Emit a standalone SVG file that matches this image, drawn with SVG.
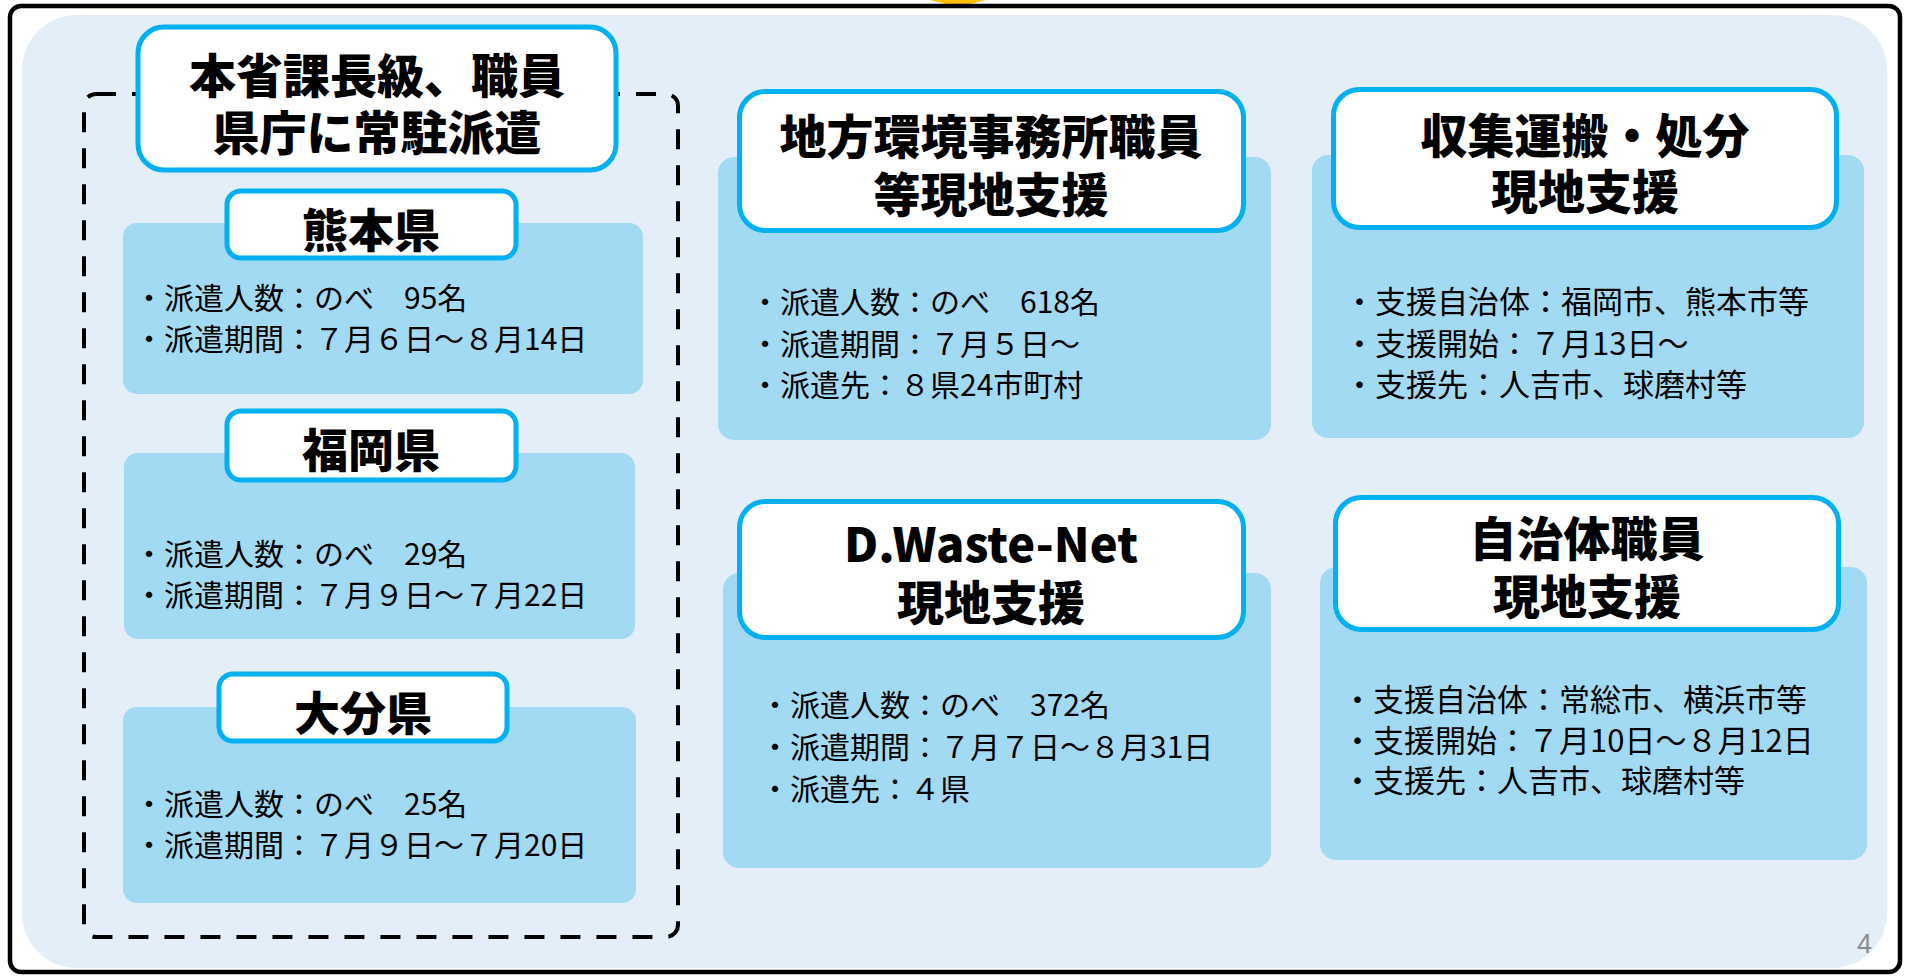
<svg xmlns="http://www.w3.org/2000/svg" width="1913" height="977" viewBox="0 0 1913 977">
<defs>
<style>
.panel{fill:#E3EEF8}
.detail{fill:#A3DAF3}
.title{fill:#FFFFFF;stroke:#00B0F0;stroke-width:5}
.tt{font-family:"Noto Sans CJK JP","Noto Sans CJK SC",sans-serif;font-weight:900;font-size:47px;fill:#000;text-anchor:middle}
.pt{font-family:"Noto Sans CJK JP","Noto Sans CJK SC",sans-serif;font-weight:900;font-size:46px;fill:#000;text-anchor:middle}
.bt{font-family:"Noto Sans CJK JP","Noto Sans CJK SC",sans-serif;font-size:30px;fill:#000}
.br{font-family:"Noto Sans CJK JP","Noto Sans CJK SC",sans-serif;font-size:31px;fill:#000}
</style>
</defs>
<rect x="0" y="0" width="1913" height="977" fill="#FFFFFF"/>
<polygon points="930,0 986,0 958,7" fill="#FFC000"/>
<rect x="10" y="6" width="1890" height="966" rx="11" fill="none" stroke="#000" stroke-width="4.5"/>
<rect class="panel" x="22" y="15" width="1865" height="953" rx="55"/>
<g id="connectors"></g>
<g id="group-prefectures">
<rect x="84" y="94" width="594" height="843" rx="12" fill="none" stroke="#000" stroke-width="4" stroke-dasharray="20 16"/>
</g>
<g id="node-kumamoto">
<rect class="detail" x="123" y="223" width="520" height="171" rx="14"/>
<rect class="title" x="227" y="191" width="289" height="67" rx="14"/>
<text class="pt" x="371" y="247">熊本県</text>
<text class="bt" x="134" y="309">・派遣人数：のべ　95名</text>
<text class="bt" x="134" y="350">・派遣期間：７月６日～８月14日</text>
</g>
<g id="node-fukuoka">
<rect class="detail" x="124" y="453" width="511" height="186" rx="14"/>
<rect class="title" x="227" y="411" width="289" height="69" rx="14"/>
<text class="pt" x="371" y="467">福岡県</text>
<text class="bt" x="134" y="565">・派遣人数：のべ　29名</text>
<text class="bt" x="134" y="606">・派遣期間：７月９日～７月22日</text>
</g>
<g id="node-oita">
<rect class="detail" x="123" y="707" width="513" height="196" rx="14"/>
<rect class="title" x="219" y="674" width="288" height="67" rx="14"/>
<text class="pt" x="363" y="730">大分県</text>
<text class="bt" x="134" y="815">・派遣人数：のべ　25名</text>
<text class="bt" x="134" y="856">・派遣期間：７月９日～７月20日</text>
</g>
<g id="node-honsho">
<rect class="title" x="138" y="27" width="478" height="143" rx="26"/>
<text class="tt"><tspan x="377" y="93">本省課長級、職員</tspan><tspan x="377" y="150">県庁に常駐派遣</tspan></text>
</g>
<g id="node-chiho">
<rect class="detail" x="718" y="157" width="553" height="283" rx="16"/>
<rect class="title" x="739.5" y="91.5" width="504" height="139" rx="26"/>
<text class="tt"><tspan x="991" y="154">地方環境事務所職員</tspan><tspan x="991" y="212">等現地支援</tspan></text>
<text class="bt" x="750" y="313">・派遣人数：のべ　618名</text>
<text class="bt" x="750" y="355">・派遣期間：７月５日～</text>
<text class="bt" x="750" y="396">・派遣先：８県24市町村</text>
</g>
<g id="node-shushu">
<rect class="detail" x="1312" y="155" width="552" height="283" rx="16"/>
<rect class="title" x="1333.5" y="89.5" width="503" height="138" rx="26"/>
<text class="tt"><tspan x="1585" y="153">収集運搬・処分</tspan><tspan x="1585" y="209">現地支援</tspan></text>
<text class="br" x="1344" y="313">・支援自治体：福岡市、熊本市等</text>
<text class="br" x="1344" y="355">・支援開始：７月13日～</text>
<text class="br" x="1344" y="396">・支援先：人吉市、球磨村等</text>
</g>
<g id="node-dwaste">
<rect class="detail" x="723" y="573" width="548" height="295" rx="16"/>
<rect class="title" x="739.5" y="501.5" width="504" height="136" rx="26"/>
<text class="tt"><tspan x="991" y="562">D.Waste-Net</tspan><tspan x="991" y="620">現地支援</tspan></text>
<text class="bt" x="760" y="716">・派遣人数：のべ　372名</text>
<text class="bt" x="760" y="758">・派遣期間：７月７日～８月31日</text>
<text class="bt" x="760" y="800">・派遣先：４県</text>
</g>
<g id="node-jichitai">
<rect class="detail" x="1320" y="567" width="547" height="293" rx="16"/>
<rect class="title" x="1335.5" y="497.5" width="503" height="132" rx="26"/>
<text class="tt"><tspan x="1587" y="556">自治体職員</tspan><tspan x="1587" y="614">現地支援</tspan></text>
<text class="br" x="1342" y="711">・支援自治体：常総市、横浜市等</text>
<text class="br" x="1342" y="752">・支援開始：７月10日～８月12日</text>
<text class="br" x="1342" y="792">・支援先：人吉市、球磨村等</text>
</g>
<text x="1857" y="953" font-family="Liberation Sans, sans-serif" font-size="27" fill="#8C8C8C">4</text>
</svg>
